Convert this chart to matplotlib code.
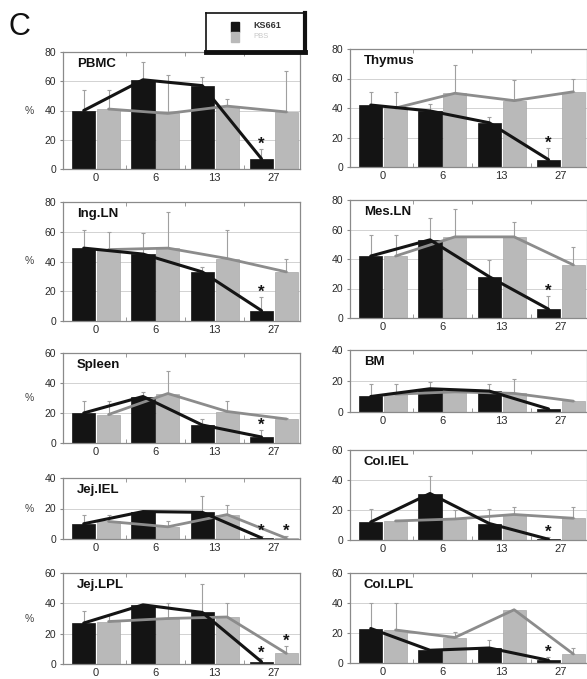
import matplotlib
matplotlib.use('Agg')
import matplotlib.pyplot as plt
from matplotlib.patches import Rectangle

plt.rcParams['font.family'] = ['Liberation Sans', 'DejaVu Sans']

# ---------------- data ----------------
days = ['0', '6', '13', '27']
series_names = ['KS661', 'PBS']

pbmc_ks661 = [40, 61, 57, 7]
pbmc_pbs = [41, 38, 43, 39]
pbmc_ks661_err = [54, 73, 63, 14]
pbmc_pbs_err = [54, 64, 48, 67]

thymus_ks661 = [42, 38, 30, 5]
thymus_pbs = [40, 50, 45, 51]
thymus_ks661_err = [51, 43, 34, 13]
thymus_pbs_err = [51, 69, 59, 60]

ingln_ks661 = [49, 45, 33, 7]
ingln_pbs = [48, 49, 42, 33]
ingln_ks661_err = [61, 59, 36, 16]
ingln_pbs_err = [60, 73, 61, 42]

mesln_ks661 = [42, 53, 28, 6]
mesln_pbs = [42, 55, 55, 36]
mesln_ks661_err = [56, 68, 39, 15]
mesln_pbs_err = [56, 74, 65, 48]

spleen_ks661 = [20, 31, 12, 4]
spleen_pbs = [19, 33, 21, 16]
spleen_ks661_err = [28, 34, 16, 9]
spleen_pbs_err = [28, 48, 28, 17]

bm_ks661 = [10, 15, 13.5, 2]
bm_pbs = [11.5, 13, 12, 7]
bm_ks661_err = [18, 19.5, 18, 2]
bm_pbs_err = [18, 15, 21, 7]

jejiel_ks661 = [10, 18, 17.5, 0.7]
jejiel_pbs = [11.5, 8, 16, 0.5]
jejiel_ks661_err = [16, 18, 28, 2]
jejiel_pbs_err = [16, 11.6, 22.5, 2]

coliel_ks661 = [12, 31, 11, 0.5]
coliel_pbs = [12.7, 14, 17, 14.5]
coliel_ks661_err = [21, 43, 21, 2]
coliel_pbs_err = [12.7, 20, 22, 22]

jejlpl_ks661 = [27, 39, 34, 1.5]
jejlpl_pbs = [28, 30, 31, 7]
jejlpl_ks661_err = [35, 39, 53, 4]
jejlpl_pbs_err = [32, 40, 40, 12]

collpl_ks661 = [23, 8.5, 10, 1.8]
collpl_pbs = [22, 17, 35.5, 6]
collpl_ks661_err = [40, 8.5, 15.5, 4]
collpl_pbs_err = [40, 21, 35.5, 10]

# significance flags (KS661 / PBS) per day
pbmc_star = ([0, 0, 0, 1], [0, 0, 0, 0])
thymus_star = ([0, 0, 0, 1], [0, 0, 0, 0])
ingln_star = ([0, 0, 0, 1], [0, 0, 0, 0])
mesln_star = ([0, 0, 0, 1], [0, 0, 0, 0])
spleen_star = ([0, 0, 0, 1], [0, 0, 0, 0])
bm_star = ([0, 0, 0, 0], [0, 0, 0, 0])
jejiel_star = ([0, 0, 0, 1], [0, 0, 0, 1])
coliel_star = ([0, 0, 0, 1], [0, 0, 0, 0])
jejlpl_star = ([0, 0, 0, 1], [0, 0, 0, 1])
collpl_star = ([0, 0, 0, 1], [0, 0, 0, 0])

panel_titles = ['PBMC', 'Thymus', 'Ing.LN', 'Mes.LN', 'Spleen', 'BM',
                'Jej.IEL', 'Col.IEL', 'Jej.LPL', 'Col.LPL']
panel_ymax = [80, 80, 80, 80, 60, 40, 40, 60, 60, 60]

panels = [
    (pbmc_ks661, pbmc_pbs, pbmc_ks661_err, pbmc_pbs_err, pbmc_star),
    (thymus_ks661, thymus_pbs, thymus_ks661_err, thymus_pbs_err, thymus_star),
    (ingln_ks661, ingln_pbs, ingln_ks661_err, ingln_pbs_err, ingln_star),
    (mesln_ks661, mesln_pbs, mesln_ks661_err, mesln_pbs_err, mesln_star),
    (spleen_ks661, spleen_pbs, spleen_ks661_err, spleen_pbs_err, spleen_star),
    (bm_ks661, bm_pbs, bm_ks661_err, bm_pbs_err, bm_star),
    (jejiel_ks661, jejiel_pbs, jejiel_ks661_err, jejiel_pbs_err, jejiel_star),
    (coliel_ks661, coliel_pbs, coliel_ks661_err, coliel_pbs_err, coliel_star),
    (jejlpl_ks661, jejlpl_pbs, jejlpl_ks661_err, jejlpl_pbs_err, jejlpl_star),
    (collpl_ks661, collpl_pbs, collpl_ks661_err, collpl_pbs_err, collpl_star),
]

# ---------------- layout (pixels) ----------------
W, H = 587, 679
fig = plt.figure(figsize=(W / 100, H / 100), dpi=100)

boxes = [  # x0, y_top, x1, y_bottom
    (63, 52, 300, 169), (350, 49, 587, 167),
    (63, 202, 300, 321), (350, 200, 587, 318),
    (63, 353, 300, 443), (350, 350, 587, 412),
    (63, 478, 300, 539), (350, 450, 587, 540),
    (63, 573, 300, 664), (350, 573, 587, 663),
]

BLACK = '#141414'
GRAY = '#b9b9b9'
LINE_GRAY = '#8c8c8c'
SPINE = '#8a8a8a'
off = 0.21
bw = 0.39

for i, ((ks, pbs, kse, pbse, stars), title, ymax, box) in enumerate(
        zip(panels, panel_titles, panel_ymax, boxes)):
    x0, yt, x1, yb = box
    ax = fig.add_axes([x0 / W, 1 - yb / H, (x1 - x0) / W, (yb - yt) / H])
    xs = list(range(len(days)))
    xk = [x - off for x in xs]
    xp = [x + off for x in xs]

    for y in range(20, ymax, 20):
        ax.axhline(y, color='#d2d2d2', lw=0.7, zorder=0)

    ax.bar(xk, ks, width=bw, color=BLACK, edgecolor=BLACK, lw=0.5, zorder=2)
    ax.bar(xp, pbs, width=bw, color=GRAY, edgecolor='#a8a8a8', lw=0.5, zorder=2)

    ax.errorbar(xk, ks, yerr=[[0] * 4, [max(e - v, 0) for e, v in zip(kse, ks)]],
                fmt='none', ecolor='#a0a0a0', elinewidth=0.8, capsize=1.5,
                capthick=0.8, zorder=1.5)
    ax.errorbar(xp, pbs, yerr=[[0] * 4, [max(e - v, 0) for e, v in zip(pbse, pbs)]],
                fmt='none', ecolor='#a0a0a0', elinewidth=0.8, capsize=1.5,
                capthick=0.8, zorder=1.5)

    ax.plot(xp, pbs, color=LINE_GRAY, lw=2.0, zorder=3, solid_capstyle='round')
    ax.plot(xk, ks, color=BLACK, lw=2.2, zorder=4, solid_capstyle='round')

    for flags, xx, tops in ((stars[0], xk, kse), (stars[1], xp, pbse)):
        for f, x, t in zip(flags, xx, tops):
            if f:
                ax.annotate('*', (x, t), xytext=(0, -2), textcoords='offset points',
                            ha='center', va='bottom', fontsize=12,
                            fontweight='bold', color=BLACK, zorder=5)

    ax.set_xlim(-0.56, 3.44)
    ax.set_ylim(0, ymax)
    ax.set_yticks(range(0, ymax + 1, 20))
    ax.set_xticks(xs)
    ax.set_xticklabels(days)
    ax.set_xticks([0.5, 1.5, 2.5], minor=True)
    ax.tick_params(axis='x', which='major', length=0, pad=3, labelsize=8,
                   labelcolor='#2a2a2a')
    ax.tick_params(axis='x', which='minor', length=3, direction='in',
                   top=True, color=SPINE)
    ax.tick_params(axis='y', length=2, pad=3, labelsize=7.5, labelcolor='#2a2a2a',
                   color=SPINE)
    for s in ax.spines.values():
        s.set_color(SPINE)
        s.set_linewidth(0.9)

    ax.annotate(title, (0, 1), xycoords='axes fraction', xytext=(14, -6),
                textcoords='offset pixels', ha='left', va='top', fontsize=9.5,
                fontweight='bold', color='#111111')

    if i % 2 == 0:
        fig.text(29 / W, 1 - ((yt + yb) / 2) / H, '%', fontsize=7.5,
                 color='#444444', ha='center', va='center')

# panel letter
fig.text(9 / W, 1 - 27 / H, 'C', fontsize=22, ha='left', va='center',
         color='#111111')

# legend box
lax = fig.add_axes([206 / W, 1 - 52 / H, 99 / W, 39 / H])
lax.set_xlim(0, 100)
lax.set_ylim(0, 39)
lax.set_xticks([])
lax.set_yticks([])
for side, lw in (('top', 1.2), ('left', 1.2), ('bottom', 3.5), ('right', 3.0)):
    lax.spines[side].set_linewidth(lw)
    lax.spines[side].set_color('#111111')
lax.add_patch(Rectangle((25, 20), 8, 10, color=BLACK))
lax.add_patch(Rectangle((25, 10), 8, 10, color=GRAY))
lax.text(48, 26, series_names[0], fontsize=6.5, fontweight='bold',
         color='#333333', va='center', ha='left')
lax.text(48, 15, series_names[1], fontsize=5.5, color='#c8c8c8',
         va='center', ha='left')

fig.savefig('out.png', dpi=100)
